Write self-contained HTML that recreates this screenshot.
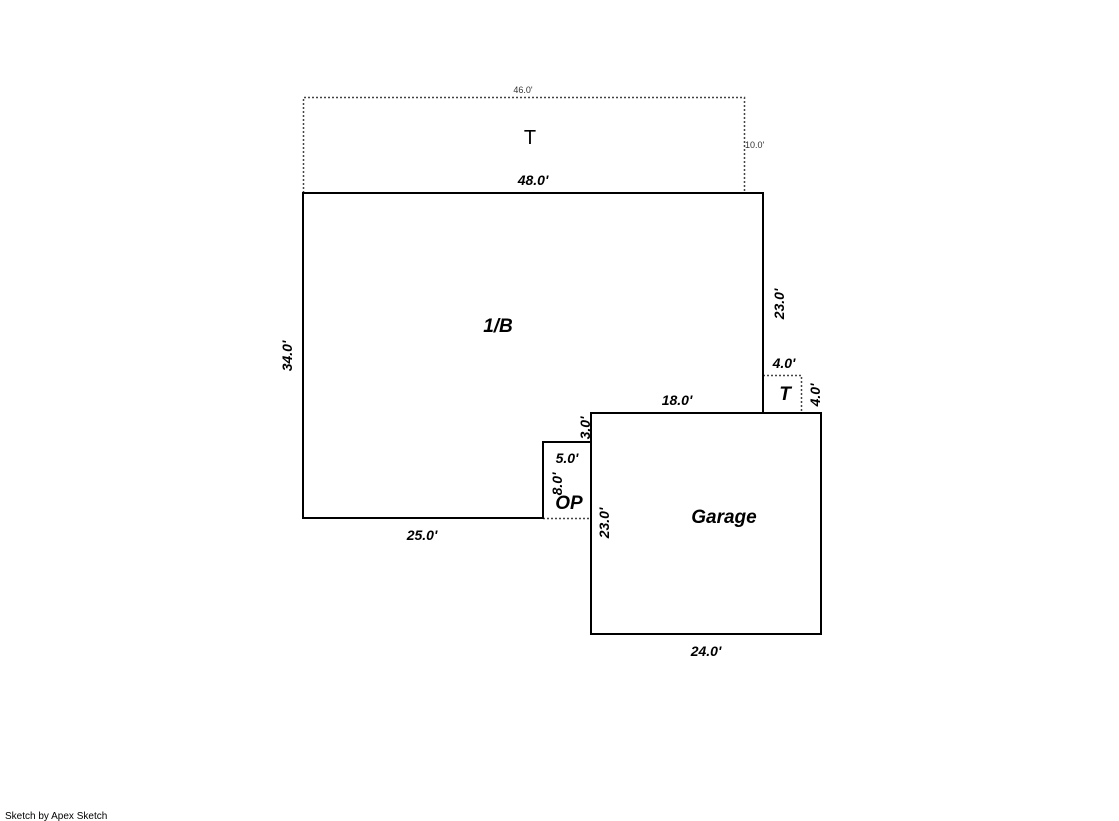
<!DOCTYPE html>
<html><head><style>
body{margin:0;background:#fff;}
svg{display:block}
.b{font-family:"Liberation Sans",sans-serif;font-weight:bold;font-style:italic;font-size:14px;fill:#000}
.l{font-size:19px}
.s{font-family:"Liberation Sans",sans-serif;font-size:9px;fill:#333}
</style></head><body>
<svg width="1119" height="821" xmlns="http://www.w3.org/2000/svg">
<g fill="none" stroke="#444" stroke-width="1.5" stroke-dasharray="2,2">
<polyline points="303.5,193 303.5,97.5 744.5,97.5 744.5,193"/>
<polyline points="763,375.5 801.5,375.5 801.5,413"/>
<line x1="543" y1="518.5" x2="591" y2="518.5"/>
</g>
<g fill="none" stroke="#000" stroke-width="2">
<polyline points="591,413 763,413 763,193 303,193 303,518 543,518 543,442 591,442"/>
<rect x="591" y="413" width="230" height="221"/>
</g>
<text class="s" x="523" y="93" text-anchor="middle">46.0'</text>
<text class="s" x="745" y="148">10.0'</text>
<text x="530" y="144" font-family="Liberation Sans,sans-serif" font-size="20" text-anchor="middle">T</text>
<text class="b" x="533" y="185" text-anchor="middle">48.0'</text>
<text class="b l" x="498" y="332" text-anchor="middle">1/B</text>
<text class="b" transform="translate(292,356) rotate(-90)" text-anchor="middle">34.0'</text>
<text class="b" transform="translate(784,304) rotate(-90)" text-anchor="middle">23.0'</text>
<text class="b" x="784" y="368" text-anchor="middle">4.0'</text>
<text class="b l" x="785" y="400" text-anchor="middle">T</text>
<text class="b" transform="translate(820,395) rotate(-90)" text-anchor="middle">4.0'</text>
<text class="b" x="677" y="405" text-anchor="middle">18.0'</text>
<text class="b" transform="translate(590,428) rotate(-90)" text-anchor="middle">3.0'</text>
<text class="b" x="567" y="463" text-anchor="middle">5.0'</text>
<text class="b" transform="translate(562,484) rotate(-90)" text-anchor="middle">8.0'</text>
<text class="b l" x="569" y="509" text-anchor="middle">OP</text>
<text class="b l" x="724" y="523" text-anchor="middle">Garage</text>
<text class="b" transform="translate(609,523) rotate(-90)" text-anchor="middle">23.0'</text>
<text class="b" x="422" y="540" text-anchor="middle">25.0'</text>
<text class="b" x="706" y="656" text-anchor="middle">24.0'</text>
<text x="5" y="819" font-family="Liberation Sans,sans-serif" font-size="10" fill="#000">Sketch by Apex Sketch</text>
</svg>
</body></html>
